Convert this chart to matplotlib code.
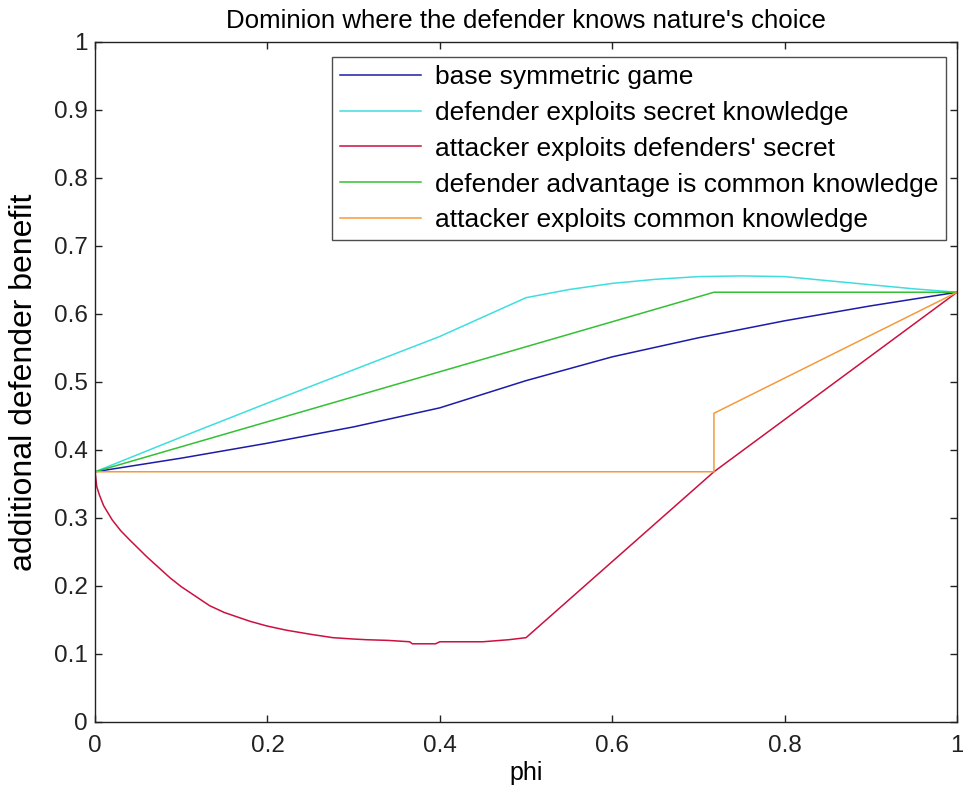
import matplotlib
matplotlib.use("Agg")
import matplotlib.pyplot as plt

FONT = ['Liberation Sans Narrow', 'Liberation Sans', 'DejaVu Sans']
plt.rcParams['font.family'] = FONT

# ---- data ----
base_phi = [0, 0.1, 0.2, 0.3, 0.4, 0.5, 0.6, 0.7, 0.8, 0.9, 1.0]
base_val = [0.368, 0.388, 0.41, 0.434, 0.462, 0.502, 0.537, 0.565, 0.59, 0.612, 0.632]

defsec_phi = [0, 0.1, 0.2, 0.3, 0.4, 0.5, 0.55, 0.6, 0.65, 0.7, 0.75, 0.8, 0.85, 0.9, 0.95, 1.0]
defsec_val = [0.368, 0.419, 0.469, 0.518, 0.567, 0.624, 0.636, 0.645, 0.651, 0.655, 0.656, 0.655,
              0.649, 0.643, 0.637, 0.632]

attsec_phi = [0, 0.002, 0.005, 0.01, 0.02, 0.03, 0.04, 0.06, 0.087, 0.1, 0.133, 0.15, 0.18, 0.2,
              0.222, 0.25, 0.276, 0.3, 0.315, 0.34, 0.365, 0.368, 0.395, 0.4, 0.45, 0.48, 0.5,
              0.718, 1.0]
attsec_val = [0.368, 0.346, 0.334, 0.318, 0.297, 0.281, 0.268, 0.243, 0.212, 0.199, 0.171, 0.161,
              0.148, 0.141, 0.135, 0.129, 0.124, 0.122, 0.121, 0.12, 0.118, 0.115, 0.115, 0.118,
              0.118, 0.121, 0.124, 0.368, 0.632]

defcom_phi = [0, 0.718, 1.0]
defcom_val = [0.368, 0.632, 0.632]

attcom_phi = [0, 0.718, 0.718, 1.0]
attcom_val = [0.368, 0.368, 0.454, 0.632]

labels = ["base symmetric game",
          "defender exploits secret knowledge",
          "attacker exploits defenders' secret",
          "defender advantage is common knowledge",
          "attacker exploits common knowledge"]
colors = ['#1c1ca8', '#3fdede', '#cc1040', '#33c033', '#f59a3c']

xticks = [0, 0.2, 0.4, 0.6, 0.8, 1]
xticklabels = ['0', '0.2', '0.4', '0.6', '0.8', '1']
yticks = [0, 0.1, 0.2, 0.3, 0.4, 0.5, 0.6, 0.7, 0.8, 0.9, 1]
yticklabels = ['0', '0.1', '0.2', '0.3', '0.4', '0.5', '0.6', '0.7', '0.8', '0.9', '1']

# ---- figure ----
fig = plt.figure(figsize=(9.63, 8.0), dpi=100)
ax = fig.add_axes([0.0987, 0.0975, 0.8951, 0.85])

series = [(base_phi, base_val), (defsec_phi, defsec_val), (attsec_phi, attsec_val),
          (defcom_phi, defcom_val), (attcom_phi, attcom_val)]
for (x, y), lab, c in zip(series, labels, colors):
    ax.plot(x, y, color=c, lw=1.1, label=lab)

ax.set_xlim(0, 1)
ax.set_ylim(0, 1)
ax.set_xticks(xticks)
ax.set_xticklabels(xticklabels)
ax.set_yticks(yticks)
ax.set_yticklabels(yticklabels)
ax.tick_params(direction='in', length=5, width=1, top=True, right=True,
               labelsize=17.5, colors='#222222')
ax.tick_params(axis='x', pad=9)
ax.tick_params(axis='y', pad=5)
for s in ax.spines.values():
    s.set_linewidth(1.0)
    s.set_color('#222222')

ax.set_title("Dominion where the defender knows nature's choice", fontsize=18.6, pad=10)
ax.set_xlabel("phi", fontsize=18, labelpad=3)
ax.set_ylabel("additional defender benefit", fontsize=23,
              family=['Liberation Sans', 'DejaVu Sans'], labelpad=11)

leg = ax.legend(loc='upper right', bbox_to_anchor=(0.987, 0.978), fontsize=19,
                frameon=True, fancybox=False, edgecolor='#222222', handlelength=3.1,
                handletextpad=0.5, labelspacing=0.45, borderpad=0.3, borderaxespad=0)
leg.get_frame().set_linewidth(1.0)

fig.savefig("out.png", dpi=100)
